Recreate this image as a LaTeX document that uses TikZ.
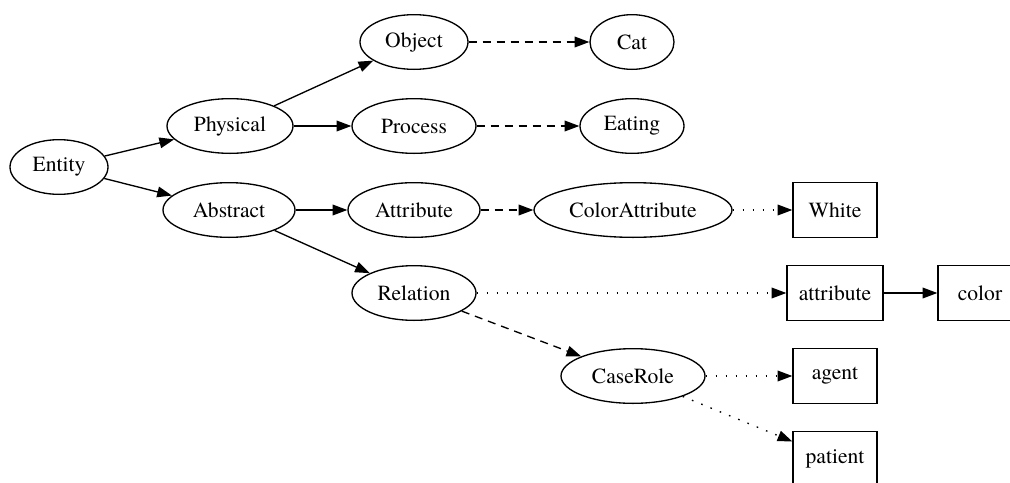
\documentclass[tikz,border=0pt]{standalone}
\usepackage{fontspec}
\setmainfont{texgyretermes}[Extension=.otf, UprightFont=*-regular]
\usetikzlibrary{arrows.meta,shapes.geometric}

\begin{document}
\begin{tikzpicture}[
        x=0.75pt, y=-0.75pt,
        font=\fontsize{16.2}{18}\selectfont,
        E/.style = {ellipse, draw, line width=1pt,% concepts
                inner sep=0pt, minimum height=41pt},
        R/.style = {rectangle, draw, line width=1pt,% relations and values
                inner sep=0pt, minimum height=41pt},
        arr/.style = {-{Triangle[length=11pt,width=8pt]}, line width=1pt},
        dsh/.style = {arr, dash pattern=on 6pt off 4.5pt},
        dts/.style = {arr, dash pattern=on 1.2pt off 6.3pt},
    ]
    \useasboundingbox (0,0) rectangle (1010,482);
    % ellipses: name/text/x/y/width
    \foreach \n/\t/\x/\y/\w in {
            ent/Entity/59/167/73.5, phy/Physical/230/126/94.5,
            abs/Abstract/229/210/99, obj/Object/414/42/81,
            pro/Process/414/126/93, att/Attribute/414/210/99,
            rel/Relation/414/293/93, cat/Cat/632/42/63,
            eat/Eating/632/126/78, col/ColorAttribute/633/210/148.5,
            cas/CaseRole/633/376/108}
    \node[E, minimum width=\w pt] (\n) at (\x,\y) {\t};
    % boxes
    \foreach \n/\t/\x/\y/\w in {
            wht/White/835/210/63, atr/attribute/835/293/72,
            clr/color/980/293/63, agt/agent/835/376/63,
            pat/patient/835/459/63}
    \node[R, minimum width=\w pt] (\n) at (\x,\y) {\t};
    % edges
    \draw[arr] (ent) -- (phy);
    \draw[arr] (ent) -- (abs);
    \draw[arr] (phy) -- (obj);
    \draw[arr] (phy) -- (pro);
    \draw[arr] (abs) -- (att);
    \draw[arr] (abs) -- (rel);
    \draw[dsh] (obj) -- (cat);
    \draw[dsh] (pro) -- (eat);
    \draw[dsh] (att) -- (col);
    \draw[dsh] (rel) -- (cas);
    \draw[dts] (col) -- (wht);
    \draw[dts] (rel) -- (atr);
    \draw[arr] (atr) -- (clr);
    \draw[dts] (cas) -- (agt);
    \draw[dts] (cas) -- (pat);
\end{tikzpicture}
\end{document}
